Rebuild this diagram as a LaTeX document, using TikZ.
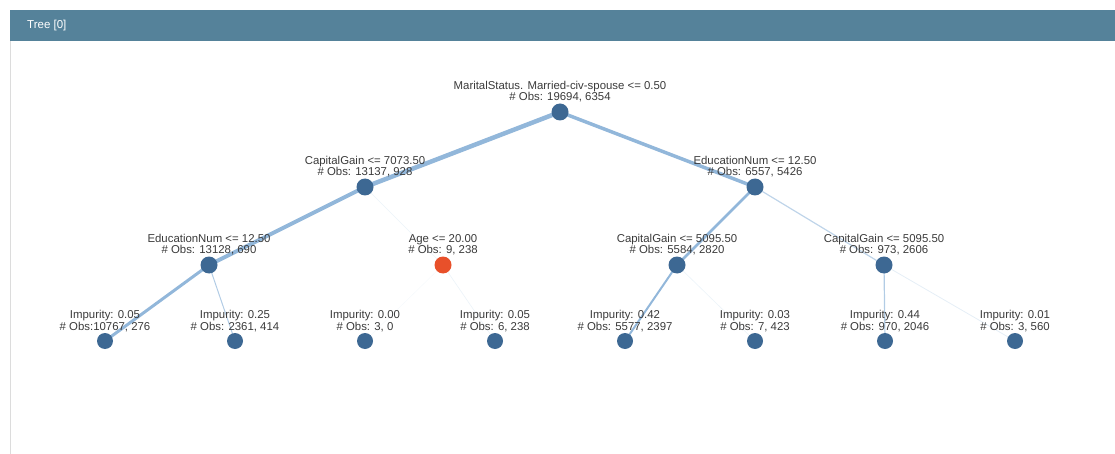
\documentclass[tikz,border=0pt]{standalone}
\usepackage{fontspec}
\setmainfont{Liberation Sans}
\usepackage{tikz}
\usetikzlibrary{
    positioning,   % Relative positioning
    backgrounds    % Background layers
}
\definecolor{headblue}{HTML}{55829A}
\definecolor{dotblue}{HTML}{3D6893}
\definecolor{dotorange}{HTML}{E8502A}
\definecolor{edgeblue}{HTML}{7FAAD4}
\definecolor{framegray}{HTML}{DCDCDC}
\definecolor{textgray}{HTML}{3A3A3A}
\tikzset{dot/.style={
    circle, fill=dotblue, minimum size=17pt, inner sep=0pt
}}
\tikzset{leafdot/.style={
    circle, fill=dotblue, minimum size=16pt, inner sep=0pt
}}
\tikzset{info/.style={
    align=center, inner sep=1pt, text=textgray,
    font=\fontsize{11.4}{11.3}\selectfont
}}
\tikzset{flow/.style={
    draw=edgeblue, line width=#1
}}

\begin{document}
\begin{tikzpicture}[x=1pt,y=1pt]
    \useasboundingbox (0,0) rectangle (1115,-454);
    % panel frame and header
    \draw[framegray, line width=1pt] (10.5,-41) -- (10.5,-454);
    \fill[headblue] (10,-10) rectangle (1115,-41);
    \node[anchor=west, inner sep=0pt, text=white, font=\fontsize{11.5}{13}\selectfont] (title) at (27,-25.5) {Tree [0]};

    % split nodes
    \node[dot] (root) at (560,-112) {};
    \node[dot] (capA) at (365,-187) {};
    \node[dot] (eduB) at (755,-187) {};
    \node[dot] (eduA) at (209,-265) {};
    \node[dot, fill=dotorange] (age) at (443,-265) {};
    \node[dot] (capB) at (677,-265) {};
    \node[dot] (capC) at (884,-265) {};
    % leaves
    \node[leafdot] (leafA) at (105,-341) {};
    \node[leafdot] (leafB) at (235,-341) {};
    \node[leafdot] (leafC) at (365,-341) {};
    \node[leafdot] (leafD) at (495,-341) {};
    \node[leafdot] (leafE) at (625,-341) {};
    \node[leafdot] (leafF) at (755,-341) {};
    \node[leafdot] (leafG) at (885,-341) {};
    \node[leafdot] (leafH) at (1015,-341) {};

    % labels
    \node[info, above=0pt of root] (rootlbl) {MaritalStatus. Married-civ-spouse <= 0.50\\\# Obs: 19694, 6354};
    \node[info, above=0pt of capA] (capAlbl) {CapitalGain <= 7073.50\\\# Obs: 13137, 928};
    \node[info, above=0pt of eduB] (eduBlbl) {EducationNum <= 12.50\\\# Obs: 6557, 5426};
    \node[info, above=0pt of eduA] (eduAlbl) {EducationNum <= 12.50\\\# Obs: 13128, 690};
    \node[info, above=0pt of age] (agelbl) {Age <= 20.00\\\# Obs: 9, 238};
    \node[info, above=0pt of capB] (capBlbl) {CapitalGain <= 5095.50\\\# Obs: 5584, 2820};
    \node[info, above=0pt of capC] (capClbl) {CapitalGain <= 5095.50\\\# Obs: 973, 2606};
    \node[info, above=0pt of leafA] (leafAlbl) {Impurity: 0.05\\\# Obs:10767, 276};
    \node[info, above=0pt of leafB] (leafBlbl) {Impurity: 0.25\\\# Obs: 2361, 414};
    \node[info, above=0pt of leafC] (leafClbl) {Impurity: 0.00\\\# Obs: 3, 0};
    \node[info, above=0pt of leafD] (leafDlbl) {Impurity: 0.05\\\# Obs: 6, 238};
    \node[info, above=0pt of leafE] (leafElbl) {Impurity: 0.42\\\# Obs: 5577, 2397};
    \node[info, above=0pt of leafF] (leafFlbl) {Impurity: 0.03\\\# Obs: 7, 423};
    \node[info, above=0pt of leafG] (leafGlbl) {Impurity: 0.44\\\# Obs: 970, 2046};
    \node[info, above=0pt of leafH] (leafHlbl) {Impurity: 0.01\\\# Obs: 3, 560};

    % edges, width by sample flow
    \begin{scope}[on background layer]
        \draw[flow=4.5pt, draw opacity=.85] (root.center) -- (capA.center);
        \draw[flow=3.5pt, draw opacity=.85] (root.center) -- (eduB.center);
        \draw[flow=4pt, draw opacity=.85] (capA.center) -- (eduA.center);
        \draw[flow=.6pt, draw opacity=.15] (capA.center) -- (age.center);
        \draw[flow=3pt, draw opacity=.85] (eduA.center) -- (leafA.center);
        \draw[flow=1pt, draw opacity=.6] (eduA.center) -- (leafB.center);
        \draw[flow=.4pt, draw opacity=.08] (age.center) -- (leafC.center);
        \draw[flow=.6pt, draw opacity=.15] (age.center) -- (leafD.center);
        \draw[flow=2.5pt, draw opacity=.85] (eduB.center) -- (capB.center);
        \draw[flow=1.2pt, draw opacity=.5] (eduB.center) -- (capC.center);
        \draw[flow=2pt, draw opacity=.85] (capB.center) -- (leafE.center);
        \draw[flow=.6pt, draw opacity=.15] (capB.center) -- (leafF.center);
        \draw[flow=1.2pt, draw opacity=.6] (capC.center) -- (leafG.center);
        \draw[flow=.8pt, draw opacity=.2] (capC.center) -- (leafH.center);
    \end{scope}
\end{tikzpicture}
\end{document}
